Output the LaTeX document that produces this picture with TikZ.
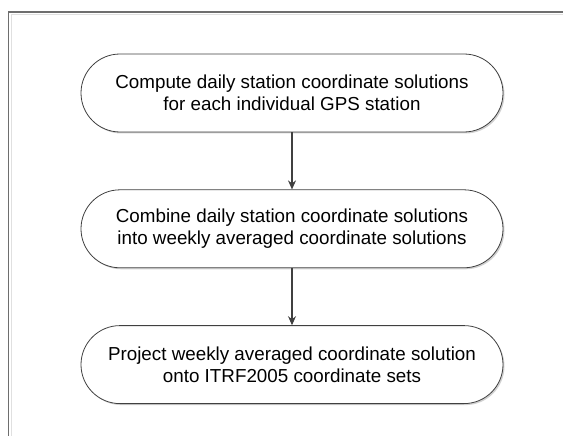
\documentclass[tikz,border=0pt]{standalone}
\usepackage{fontspec}
\setmainfont{Liberation Sans}
\usetikzlibrary{arrows.meta, positioning, shadows}
\definecolor{edgegray}{HTML}{404040}
\definecolor{framegray}{HTML}{6E6E6E}
\tikzset{
  stage/.style = {rectangle, draw=edgegray, line width=0.8pt, fill=white,
                  rounded corners=39pt, minimum width=422pt,
                  minimum height=78pt, align=center,
                  font=\fontsize{18.8}{21.7}\selectfont,
                  drop shadow={shadow xshift=1.5pt, shadow yshift=-1.5pt,
                               fill=black!30, opacity=0.6}},
  flow/.style  = {-{Stealth[length=9pt, width=8pt]}, draw=edgegray,
                  line width=1.1pt}
}

\begin{document}
\begin{tikzpicture}[x=1pt, y=-1pt, node distance=57pt]
  \useasboundingbox (0,0) rectangle (563,436);

  % open frame
  \draw[framegray, line width=1.3pt] (8.5,436) -- (8.5,12) -- (563,12);
  \draw[black!12, line width=0.8pt] (11,436) -- (11,14.5) -- (563,14.5);

  \node (daily)  [stage] at (292,93)  {Compute daily station coordinate solutions\\
                                       for each individual GPS station};
  \node (weekly) [stage, below=of daily]  {Combine daily station coordinate solutions\\
                                           into weekly averaged coordinate solutions};
  \node (itrf)   [stage, below=of weekly] {Project weekly averaged coordinate solution\\
                                           onto ITRF2005 coordinate sets};

  % processing order
  \draw[flow] (daily) -- (weekly);
  \draw[flow] (weekly) -- (itrf);
\end{tikzpicture}
\end{document}
